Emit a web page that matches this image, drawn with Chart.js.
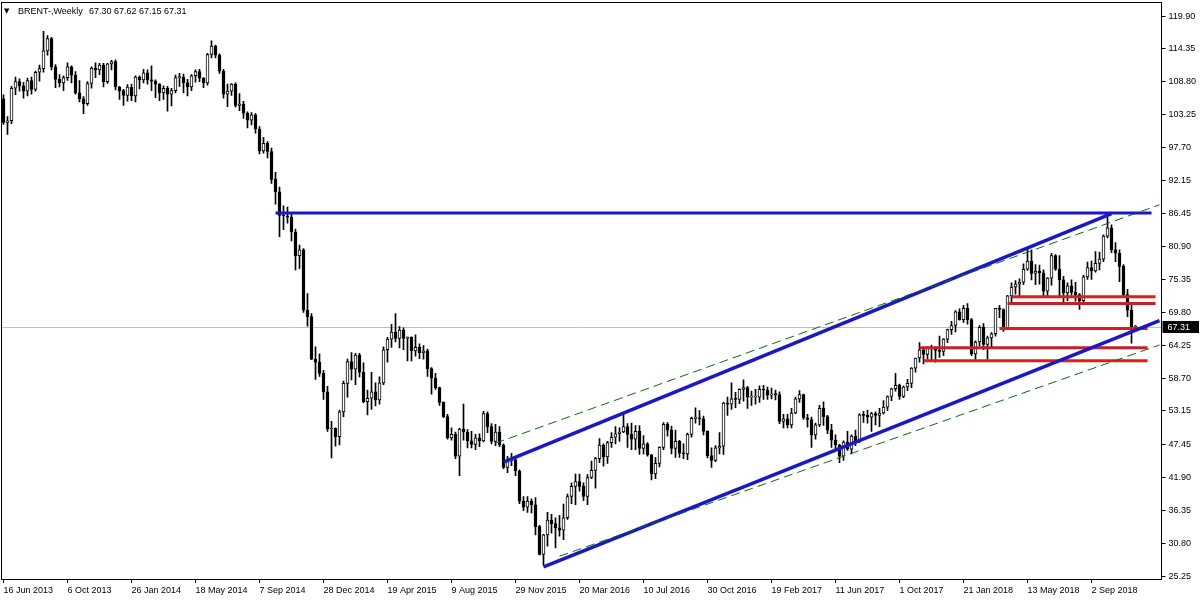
<!DOCTYPE html>
<html>
<head>
<meta charset="utf-8">
<title>BRENT Weekly</title>
<script src="https://cdn.jsdelivr.net/npm/chart.js@4.4.1/dist/chart.umd.min.js"></script>
<style>
    html, body { margin: 0; padding: 0; background: #ffffff; }
    #wrap { width: 1200px; height: 600px; }
</style>
</head>
<body>
<div id="wrap"><canvas id="chart" width="1200" height="600"></canvas></div>
<script>
// header text
const symbolName = 'BRENT-,Weekly';
const lastQuote = '67.30 67.62 67.15 67.31';

// x axis: one category per week, labels every 16 weeks
const weekCount = 290;
const xTickStep = 16;
const xTickLabels = [
    '16 Jun 2013', '6 Oct 2013', '26 Jan 2014', '18 May 2014', '7 Sep 2014', '28 Dec 2014',
    '19 Apr 2015', '9 Aug 2015', '29 Nov 2015', '20 Mar 2016', '10 Jul 2016', '30 Oct 2016',
    '19 Feb 2017', '11 Jun 2017', '1 Oct 2017', '21 Jan 2018', '13 May 2018', '2 Sep 2018'
];
const yTicks = [25.25, 30.80, 36.35, 41.90, 47.45, 53.15, 58.70, 64.25, 69.80, 75.35,
    80.90, 86.45, 92.15, 97.70, 103.25, 108.80, 114.35, 119.90];
const yMin = 24.75;
const yMax = 122.27;

// weekly candles, 16 Jun 2013 .. 18 Nov 2018
const open = [
    105.9, 101.9, 102.2, 107.7, 108.8, 108.1, 107.2, 109.0, 107.5, 110.4,
    111.0, 114.0, 116.1, 111.3, 109.2, 108.6, 109.5, 111.3, 109.9, 106.9,
    105.9, 105.1, 108.5, 111.1, 110.8, 111.6, 108.8, 111.8, 112.2, 107.9,
    107.3, 106.5, 107.9, 106.4, 109.6, 109.1, 110.3, 109.1, 108.9, 108.4,
    106.9, 107.7, 106.7, 107.3, 109.5, 109.6, 108.6, 107.9, 109.8, 110.5,
    109.4, 108.6, 113.4, 114.8, 113.3, 110.6, 106.7, 107.2, 108.4, 104.8,
    105.0, 103.5, 102.3, 103.2, 100.8, 97.1, 98.4, 97.0, 92.3, 90.2,
    86.2, 86.1, 85.9, 83.4, 79.4, 80.4, 70.2, 69.1, 61.9, 61.4,
    59.5, 56.4, 50.1, 50.2, 48.8, 53.0, 57.8, 61.5, 60.2, 62.6,
    59.7, 54.7, 55.3, 56.4, 55.0, 57.9, 63.5, 65.3, 66.5, 65.4,
    66.8, 65.4, 65.6, 63.3, 63.9, 63.0, 63.3, 60.3, 58.7, 57.1,
    54.6, 52.2, 48.6, 49.2, 45.5, 50.1, 49.6, 48.1, 47.5, 48.6,
    48.1, 52.7, 50.5, 48.0, 49.6, 47.4, 43.6, 44.7, 44.9, 43.0,
    37.9, 36.9, 37.9, 37.3, 33.6, 28.9, 32.2, 34.7, 34.1, 33.4,
    33.0, 35.1, 38.7, 40.4, 41.2, 40.4, 38.7, 41.9, 43.1, 45.1,
    47.4, 45.4, 47.8, 48.7, 49.3, 49.6, 50.5, 49.2, 48.4, 49.7,
    46.8, 47.6, 45.7, 42.5, 44.3, 47.0, 50.9, 49.9, 46.8, 48.0,
    46.0, 45.9, 49.2, 51.9, 52.0, 51.8, 49.7, 45.6, 44.8, 46.9,
    47.2, 54.5, 54.3, 55.2, 55.1, 56.8, 57.1, 55.5, 55.5, 55.5,
    56.8, 56.7, 55.8, 56.0, 55.9, 51.4, 51.8, 50.8, 52.8, 55.2,
    55.9, 52.0, 51.7, 49.1, 50.8, 53.6, 52.2, 49.9, 48.2, 47.4,
    45.5, 47.9, 46.7, 48.9, 48.1, 52.5, 52.4, 52.1, 52.7, 52.4,
    52.8, 53.8, 55.6, 56.9, 57.5, 55.6, 57.2, 57.8, 60.4, 62.1,
    63.5, 62.7, 63.9, 63.7, 63.4, 63.2, 65.3, 66.9, 67.6, 69.9,
    68.6, 70.5, 68.6, 62.8, 64.8, 67.3, 64.4, 65.5, 66.2, 70.5,
    70.3, 67.1, 72.6, 74.1, 74.6, 74.9, 77.1, 78.5, 76.4, 76.8,
    76.5, 73.4, 75.6, 79.4, 77.1, 75.3, 73.1, 74.3, 73.2, 72.8,
    71.8, 75.8, 77.4, 76.8, 78.1, 78.8, 82.7, 84.1, 80.4, 79.8,
    77.6, 72.8, 70.2, 67.30
];
const high = [
    106.6, 102.9, 108.0, 109.6, 109.3, 108.7, 109.4, 109.6, 110.6, 111.6,
    117.3, 116.6, 116.3, 111.7, 110.0, 109.8, 112.0, 111.5, 110.5, 109.0,
    106.3, 108.8, 111.3, 112.0, 111.9, 111.9, 111.9, 112.4, 112.5, 108.0,
    107.5, 108.3, 108.4, 109.8, 109.8, 110.9, 110.8, 111.5, 109.1, 108.5,
    108.1, 108.0, 107.7, 109.9, 110.2, 110.1, 109.2, 110.0, 110.8, 110.9,
    109.5, 113.6, 115.7, 115.0, 113.5, 110.9, 108.4, 108.5, 108.6, 106.8,
    105.5, 103.7, 103.6, 103.4, 101.2, 99.4, 98.7, 97.6, 93.5, 91.0,
    87.8, 87.6, 86.5, 83.9, 81.2, 80.6, 73.0, 69.6, 64.0, 62.8,
    60.0, 57.3, 51.4, 50.3, 53.3, 58.2, 61.9, 63.0, 62.9, 62.9,
    61.3, 56.7, 59.7, 57.9, 58.9, 64.0, 65.6, 67.8, 69.6, 67.4,
    67.2, 65.7, 65.7, 66.0, 64.5, 64.2, 63.6, 60.5, 59.5, 57.2,
    54.7, 52.6, 50.3, 49.6, 50.2, 54.3, 50.0, 49.7, 49.2, 49.3,
    53.1, 53.0, 51.0, 50.9, 50.5, 47.6, 45.5, 46.0, 45.3, 43.2,
    38.7, 38.7, 38.3, 38.5, 33.8, 32.3, 36.0, 35.7, 35.1, 35.5,
    37.4, 39.1, 41.0, 42.5, 42.5, 41.0, 42.4, 44.7, 45.3, 48.5,
    47.6, 48.0, 49.5, 50.5, 50.3, 52.9, 51.0, 51.1, 50.7, 50.7,
    49.0, 47.8, 45.8, 45.3, 47.1, 51.2, 51.2, 50.6, 49.9, 48.2,
    47.6, 49.4, 52.1, 53.7, 53.2, 52.3, 49.8, 46.9, 47.3, 49.5,
    54.6, 55.5, 57.9, 56.3, 56.9, 58.4, 57.3, 56.5, 56.8, 57.4,
    57.5, 57.2, 57.0, 56.7, 56.4, 52.6, 52.6, 53.6, 55.5, 56.6,
    56.0, 52.6, 52.1, 51.1, 54.1, 54.7, 52.4, 50.9, 49.1, 47.5,
    48.1, 49.7, 49.1, 49.9, 52.7, 53.1, 53.3, 52.9, 53.0, 53.6,
    54.9, 55.7, 57.0, 59.5, 57.7, 57.4, 58.5, 60.5, 62.1, 64.7,
    63.6, 64.0, 64.3, 64.0, 65.8, 65.4, 67.0, 68.3, 70.1, 70.4,
    71.0, 71.3, 68.8, 65.0, 67.6, 67.9, 65.8, 66.4, 70.5, 71.0,
    70.4, 72.7, 74.8, 75.2, 75.5, 78.0, 80.5, 80.4, 77.9, 77.8,
    77.0, 75.7, 79.8, 79.6, 79.4, 75.9, 74.8, 75.3, 74.9, 73.0,
    76.1, 78.3, 78.5, 80.1, 80.0, 82.9, 85.9, 84.6, 81.6, 80.4,
    77.9, 73.7, 71.3, 67.62
];
const low = [
    101.6, 99.9, 101.7, 106.6, 107.2, 106.0, 106.4, 106.7, 107.2, 108.9,
    110.4, 113.3, 110.8, 107.8, 107.9, 107.3, 109.0, 108.6, 106.7, 105.4,
    103.4, 104.8, 107.7, 109.5, 110.0, 107.9, 108.5, 110.8, 107.4, 105.8,
    104.8, 105.5, 105.6, 105.4, 107.6, 108.6, 108.4, 107.3, 106.1, 105.6,
    105.8, 103.8, 104.7, 106.9, 108.0, 106.9, 106.4, 107.3, 108.7, 108.8,
    107.8, 108.2, 112.8, 112.8, 110.2, 106.0, 104.6, 106.5, 104.5, 103.9,
    102.6, 101.0, 101.5, 100.1, 96.6, 96.7, 95.9, 91.6, 88.1, 82.6,
    83.8, 84.9, 81.9, 77.0, 77.2, 69.8, 67.5, 61.8, 58.5, 59.0,
    55.1, 49.7, 45.2, 47.2, 47.4, 52.2, 55.5, 58.4, 57.6, 58.9,
    54.5, 52.5, 53.4, 54.0, 54.3, 57.6, 61.4, 63.9, 64.8, 63.8,
    63.5, 61.6, 61.6, 62.4, 62.0, 61.9, 59.0, 56.0, 56.8, 54.1,
    52.0, 48.4, 48.2, 45.1, 42.2, 48.2, 46.9, 46.9, 46.6, 47.1,
    47.9, 49.5, 47.6, 47.3, 47.1, 43.4, 42.7, 43.9, 42.2, 37.5,
    36.3, 36.0, 35.9, 32.2, 28.8, 27.1, 30.3, 32.5, 30.0, 32.0,
    31.4, 34.8, 37.5, 37.3, 39.6, 38.0, 37.3, 41.7, 40.1, 44.4,
    43.8, 44.3, 47.0, 47.6, 48.0, 49.5, 47.0, 46.6, 46.6, 45.8,
    45.9, 45.5, 41.5, 41.7, 43.7, 46.6, 48.9, 45.9, 45.3, 45.3,
    45.1, 44.9, 48.7, 51.1, 50.8, 49.1, 45.2, 43.6, 44.6, 45.9,
    45.8, 52.4, 53.4, 53.7, 54.4, 54.8, 53.6, 54.1, 54.3, 54.6,
    55.1, 55.1, 55.2, 55.0, 51.0, 50.3, 50.3, 50.3, 52.7, 54.6,
    51.7, 50.4, 47.0, 48.4, 50.5, 50.7, 49.3, 47.0, 46.5, 44.4,
    44.8, 46.5, 45.9, 47.3, 47.8, 51.2, 51.1, 49.7, 50.8, 50.5,
    52.6, 53.2, 54.9, 56.5, 55.1, 55.4, 56.6, 57.1, 59.7, 61.4,
    61.1, 61.9, 61.5, 61.4, 62.2, 62.5, 64.7, 66.1, 66.5, 68.5,
    68.1, 67.8, 62.5, 61.8, 64.1, 63.5, 61.9, 63.7, 65.8, 68.9,
    66.6, 66.9, 71.2, 72.9, 72.3, 74.5, 76.9, 75.3, 74.5, 74.6,
    72.5, 72.4, 74.4, 76.9, 72.5, 71.4, 71.8, 72.7, 71.7, 70.3,
    71.6, 75.4, 75.4, 76.6, 77.0, 78.4, 82.4, 79.9, 78.4, 75.0,
    72.5, 69.1, 64.6, 67.15
];
const close = [
    101.9, 102.2, 107.7, 108.8, 108.1, 107.2, 109.0, 107.5, 110.4, 111.0,
    114.0, 116.1, 111.3, 109.2, 108.6, 109.5, 111.3, 109.9, 106.9, 105.9,
    105.1, 108.5, 111.1, 110.8, 111.6, 108.8, 111.8, 112.2, 107.9, 107.3,
    106.5, 107.9, 106.4, 109.6, 109.1, 110.3, 109.1, 108.9, 108.4, 106.9,
    107.7, 106.7, 107.3, 109.5, 109.6, 108.6, 107.9, 109.8, 110.5, 109.4,
    108.6, 113.4, 114.8, 113.3, 110.6, 106.7, 107.2, 108.4, 104.8, 105.0,
    103.5, 102.3, 103.2, 100.8, 97.1, 98.4, 97.0, 92.3, 90.2, 86.2,
    86.1, 85.9, 83.4, 79.4, 80.4, 70.2, 69.1, 61.9, 61.4, 59.5,
    56.4, 50.1, 50.2, 48.8, 53.0, 57.8, 61.5, 60.2, 62.6, 59.7,
    54.7, 55.3, 56.4, 55.0, 57.9, 63.5, 65.3, 66.5, 65.4, 66.8,
    65.4, 65.6, 63.3, 63.9, 63.0, 63.3, 60.3, 58.7, 57.1, 54.6,
    52.2, 48.6, 49.2, 45.5, 50.1, 49.6, 48.1, 47.5, 48.6, 48.1,
    52.7, 50.5, 48.0, 49.6, 47.4, 43.6, 44.7, 44.9, 43.0, 37.9,
    36.9, 37.9, 37.3, 33.6, 28.9, 32.2, 34.7, 34.1, 33.4, 33.0,
    35.1, 38.7, 40.4, 41.2, 40.4, 38.7, 41.9, 43.1, 45.1, 47.4,
    45.4, 47.8, 48.7, 49.3, 49.6, 50.5, 49.2, 48.4, 49.7, 46.8,
    47.6, 45.7, 42.5, 44.3, 47.0, 50.9, 49.9, 46.8, 48.0, 46.0,
    45.9, 49.2, 51.9, 52.0, 51.8, 49.7, 45.6, 44.8, 46.9, 47.2,
    54.5, 54.3, 55.2, 55.1, 56.8, 57.1, 55.5, 55.5, 55.5, 56.8,
    56.7, 55.8, 56.0, 55.9, 51.4, 51.8, 50.8, 52.8, 55.2, 55.9,
    52.0, 51.7, 49.1, 50.8, 53.6, 52.2, 49.9, 48.2, 47.4, 45.5,
    47.9, 46.7, 48.9, 48.1, 52.5, 52.4, 52.1, 52.7, 52.4, 52.8,
    53.8, 55.6, 56.9, 57.5, 55.6, 57.2, 57.8, 60.4, 62.1, 63.5,
    62.7, 63.9, 63.7, 63.4, 63.2, 65.3, 66.9, 67.6, 69.9, 68.6,
    70.5, 68.6, 62.8, 64.8, 67.3, 64.4, 65.5, 66.2, 70.5, 70.3,
    67.1, 72.6, 74.1, 74.6, 74.9, 77.1, 78.5, 76.4, 76.8, 76.5,
    73.4, 75.6, 79.4, 77.1, 75.3, 73.1, 74.3, 73.2, 72.8, 71.8,
    75.8, 77.4, 76.8, 78.1, 78.8, 82.7, 84.1, 80.4, 79.8, 77.6,
    72.8, 70.2, 67.2, 67.31
];

// drawn objects, as [week index, price]
const resistLevel = [[68, 86.6], [287, 86.6]];
const channelTop = [[125, 44.5], [277, 86.5]];
const channelBottom = [[135, 26.8], [289, 68.4]];
const dashTop = [[123, 47.7], [289, 88.0]];
const dashBottom = [[139, 28.6], [289, 64.3]];
// [from week, to week, price]
const redLevels = [[252, 288, 72.45], [251, 288, 71.3], [249, 286, 67.1], [229, 286, 63.85], [230, 286, 61.65]];

const weeks = [];
for (let i = 0; i < weekCount; i++) {
    const d = new Date(Date.UTC(2013, 5, 16 + i * 7));
    weeks.push(d.toISOString().slice(0, 10));
}

const FONT = 'Liberation Sans';
const BLUE = '#1818c8';
const GREEN = '#0f6a0f';
const redColors = ['#e31b1b', '#c4202a', '#e31b1b', '#c4202a', '#e31b1b'];

function lineSet(points, color, width, dash) {
    return {
        type: 'line',
        data: points.map(p => ({ x: weeks[p[0]], y: p[1] })),
        borderColor: color,
        borderWidth: width,
        borderDash: dash || [],
        borderCapStyle: 'butt',
        pointRadius: 0,
        pointHoverRadius: 0,
        fill: false,
        tension: 0,
        order: 0
    };
}

const datasets = [
    lineSet(dashTop, GREEN, 1, [9, 5]),
    lineSet(dashBottom, GREEN, 1, [9, 5]),
    lineSet(resistLevel, BLUE, 3),
    lineSet(channelTop, BLUE, 3.5),
    lineSet(channelBottom, BLUE, 3.5),
    ...redLevels.map((r, k) => lineSet([[r[0], r[2]], [r[1], r[2]]], redColors[k], 3)),
    {
        label: 'body',
        data: open.map((o, i) => [o, close[i]]),
        backgroundColor: ctx => (close[ctx.dataIndex] >= open[ctx.dataIndex] ? '#ffffff' : '#000000'),
        borderColor: '#000000',
        borderWidth: 1,
        borderSkipped: false,
        barThickness: 3,
        minBarLength: 1,
        grouped: false,
        order: 1
    },
    {
        label: 'wick',
        data: high.map((h, i) => [low[i], h]),
        backgroundColor: '#000000',
        borderWidth: 0,
        barThickness: 1,
        grouped: false,
        order: 2
    }
];

const terminalDecor = {
    id: 'terminalDecor',
    beforeDatasetsDraw(chart) {
        const { ctx, chartArea, scales } = chart;
        const y = Math.round(scales.y.getPixelForValue(close[close.length - 1])) + 0.5;
        ctx.save();
        ctx.strokeStyle = '#c0c0c0';
        ctx.lineWidth = 1;
        ctx.beginPath();
        ctx.moveTo(chartArea.left, y);
        ctx.lineTo(chartArea.right, y);
        ctx.stroke();
        ctx.restore();
    },
    afterDraw(chart) {
        const { ctx, chartArea, scales } = chart;
        ctx.save();
        // frame
        ctx.strokeStyle = '#000000';
        ctx.lineWidth = 1;
        const l = Math.floor(chartArea.left) + 0.5;
        const t = Math.floor(chartArea.top) + 0.5;
        const r = Math.floor(chartArea.right) + 0.5;
        const b = Math.floor(chartArea.bottom) + 0.5;
        ctx.strokeRect(l, t, r - l, b - t);

        // header
        ctx.fillStyle = '#000000';
        ctx.textBaseline = 'middle';
        ctx.textAlign = 'left';
        ctx.font = '7px "DejaVu Sans"';
        ctx.fillText('▼', 4, 11);
        ctx.font = '9px "' + FONT + '"';
        ctx.fillText(symbolName, 18, 12);
        ctx.fillText(lastQuote, 89, 12);

        // last price tag
        const y = Math.round(scales.y.getPixelForValue(close[close.length - 1]));
        ctx.fillStyle = '#000000';
        ctx.fillRect(r + 1, y - 6, 1200 - r - 2, 12);
        ctx.fillStyle = '#ffffff';
        ctx.fillText(close[close.length - 1].toFixed(2), r + 6, y + 0.5);
        ctx.restore();
    }
};

new Chart(document.getElementById('chart'), {
    type: 'bar',
    data: { labels: weeks, datasets },
    options: {
        responsive: false,
        animation: false,
        devicePixelRatio: 1,
        layout: { padding: { top: 2, left: 1.5, right: 0, bottom: 0 } },
        plugins: {
            legend: { display: false },
            tooltip: { enabled: false }
        },
        scales: {
            x: {
                type: 'category',
                offset: true,
                grid: { display: true, offset: false, drawOnChartArea: false, drawTicks: true, tickLength: 4, color: '#000000' },
                border: { display: true, color: '#000000' },
                ticks: {
                    autoSkip: false,
                    maxRotation: 0,
                    align: 'start',
                    padding: 2,
                    color: '#000000',
                    font: { family: FONT, size: 9 },
                    callback: v => xTickLabels[Math.round(v / xTickStep)]
                },
                afterBuildTicks: s => {
                    s.ticks = xTickLabels.map((_, k) => ({ value: k * xTickStep }));
                },
                afterFit: s => {
                    s.height = 21;
                    s.paddingLeft = 0;
                    s.paddingRight = 0;
                }
            },
            y: {
                position: 'right',
                min: yMin,
                max: yMax,
                bounds: 'data',
                grid: { display: true, drawOnChartArea: false, drawTicks: true, tickLength: 4, color: '#000000' },
                border: { display: true, color: '#000000' },
                ticks: {
                    padding: 3,
                    color: '#000000',
                    font: { family: FONT, size: 9 },
                    callback: v => v.toFixed(2)
                },
                afterBuildTicks: s => {
                    s.ticks = yTicks.map(v => ({ value: v }));
                },
                afterFit: s => {
                    s.width = 38.5;
                    s.paddingTop = 0;
                    s.paddingBottom = 0;
                }
            }
        }
    },
    plugins: [terminalDecor]
});
</script>
</body>
</html>
